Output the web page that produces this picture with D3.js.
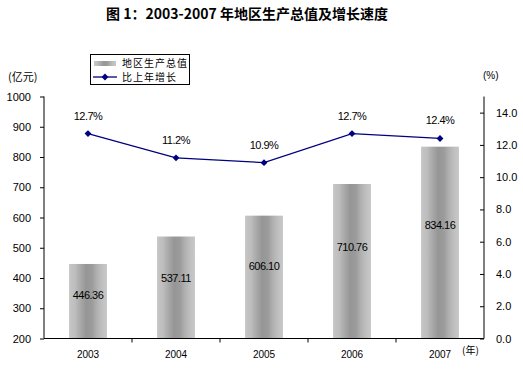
<!DOCTYPE html>
<html><head><meta charset="utf-8">
<script src="https://cdn.jsdelivr.net/npm/d3@7"></script>
<style>body{margin:0;background:#fff}svg{display:block}</style>
</head><body><div id="chart"></div>
<script>
const years = ["2003","2004","2005","2006","2007"];
const gdp = [446.36, 537.11, 606.10, 710.76, 834.16];
const growth = [12.7, 11.2, 10.9, 12.7, 12.4];
const leftTicks = [200,300,400,500,600,700,800,900,1000];
const rightTicks = [0,2,4,6,8,10,12,14];

const W=523,H=369;
const L=44,R=484,T=96.5,B=338.5;
const svg=d3.select("#chart").append("svg").attr("width",W).attr("height",H);
const latin="Arial, 'Liberation Sans', sans-serif";
const cjk="'Noto Sans CJK SC', sans-serif";

const defs=svg.append("defs");
const g=defs.append("linearGradient").attr("id","bar").attr("x1","0").attr("x2","1").attr("y1","0").attr("y2","0");
[[0,"#c6c6c6"],[0.15,"#bebebe"],[0.3,"#a9a9a9"],[0.45,"#969696"],[0.6,"#9b9b9b"],[0.75,"#b2b2b2"],[0.9,"#c2c2c2"],[1,"#c6c6c6"]]
 .forEach(([o,c])=>g.append("stop").attr("offset",o).attr("stop-color",c));

const x=d3.scaleBand().domain(years).range([L,R]).paddingInner(0.57).paddingOuter(0.285);
const xb=d3.scaleBand().domain(years).range([L,R]);
const yL=d3.scaleLinear().domain([200,1000]).range([B,T]);
const yR=d3.scaleLinear().domain([0,15]).range([B,T]);

// title
svg.append("text").attr("x",247).attr("y",19).attr("text-anchor","middle")
 .attr("font-family",cjk).attr("font-weight","bold").attr("font-size",14).text("图 1：2003-2007 年地区生产总值及增长速度");

// bars
svg.selectAll("rect.bar").data(gdp).enter().append("rect").attr("class","bar")
 .attr("x",(d,i)=>x(years[i])).attr("width",x.bandwidth())
 .attr("y",d=>yL(d)).attr("height",d=>B-yL(d)).attr("fill","url(#bar)");
svg.selectAll("text.bl").data(gdp).enter().append("text").attr("class","bl")
 .attr("x",(d,i)=>xb(years[i])+xb.bandwidth()/2)
 .attr("y",d=>yL(d)+(B-yL(d))*0.41+4).attr("text-anchor","middle")
 .attr("font-family",latin).attr("font-size",11).attr("letter-spacing","-0.5").text(d=>d.toFixed(2));

// axes
const axL=d3.axisLeft(yL).tickValues(leftTicks).tickSize(4).tickFormat(d3.format("d"));
const gL=svg.append("g").attr("transform",`translate(${L},0)`).call(axL);
const axR=d3.axisRight(yR).tickValues(rightTicks).tickSize(-4).tickPadding(12).tickFormat(d3.format(".1f"));
const gR=svg.append("g").attr("transform",`translate(${R},0)`).call(axR);
[gL,gR].forEach(a=>{a.select(".domain").attr("stroke","#000");
 a.selectAll("text").attr("font-family",latin).attr("font-size",11).attr("fill","#000");});
gL.select(".domain").attr("d",`M-0,${T}V${B}`);
gR.select(".domain").attr("d",`M0,${T}V${B}`);
gL.selectAll("text").attr("x",-13);

const axB=d3.axisBottom(xb).tickSize(0).tickPadding(12);
const gB=svg.append("g").attr("transform",`translate(0,${B})`).call(axB);
gB.select(".domain").attr("d",`M${L},0H${R}`).attr("stroke","#000");
gB.selectAll("text").attr("font-family",latin).attr("font-size",10).attr("fill","#000");
gB.selectAll("line.bt").data(years.slice(1)).enter().append("line").attr("class","bt")
 .attr("x1",d=>xb(d)).attr("x2",d=>xb(d)).attr("y1",0).attr("y2",4).attr("stroke","#000");

// unit labels
svg.append("text").attr("x",8).attr("y",81).attr("font-family",cjk).attr("font-size",11).text("(亿元)");
svg.append("text").attr("x",483).attr("y",79).attr("font-family",latin).attr("font-size",10).text("(%)");
svg.append("text").attr("x",462).attr("y",354).attr("font-family",cjk).attr("font-size",10).text("(年)");

// line
const line=d3.line().x((d,i)=>xb(years[i])+xb.bandwidth()/2).y(d=>yR(d));
svg.append("path").datum(growth).attr("d",line).attr("fill","none").attr("stroke","#000080").attr("stroke-width",1.3);
svg.selectAll("path.m").data(growth).enter().append("path").attr("class","m")
 .attr("d",d3.symbol(d3.symbolDiamond2,30)())
 .attr("transform",(d,i)=>`translate(${xb(years[i])+xb.bandwidth()/2},${yR(d)})`).attr("fill","#000080");
svg.selectAll("text.gl").data(growth).enter().append("text").attr("class","gl")
 .attr("x",(d,i)=>xb(years[i])+xb.bandwidth()/2).attr("y",d=>yR(d)-14)
 .attr("text-anchor","middle").attr("font-family",latin).attr("font-size",11).attr("letter-spacing","-0.5")
 .text(d=>d.toFixed(1)+"%");

// legend
const lg=svg.append("g");
lg.append("rect").attr("x",90.5).attr("y",54.5).attr("width",99).attr("height",30).attr("fill","#fff").attr("stroke","#000");
lg.append("rect").attr("x",94).attr("y",61).attr("width",22).attr("height",5).attr("fill","url(#bar)");
lg.append("line").attr("x1",93).attr("x2",117).attr("y1",77).attr("y2",77).attr("stroke","#000080").attr("stroke-width",1.3);
lg.append("path").attr("d",d3.symbol(d3.symbolDiamond2,30)()).attr("transform","translate(105,77)").attr("fill","#000080");
lg.append("text").attr("x",122).attr("y",66.5).attr("font-family",cjk).attr("font-size",10).attr("letter-spacing","1").text("地区生产总值");
lg.append("text").attr("x",122).attr("y",81).attr("font-family",cjk).attr("font-size",10).attr("letter-spacing","1").text("比上年增长");
</script></body></html>
